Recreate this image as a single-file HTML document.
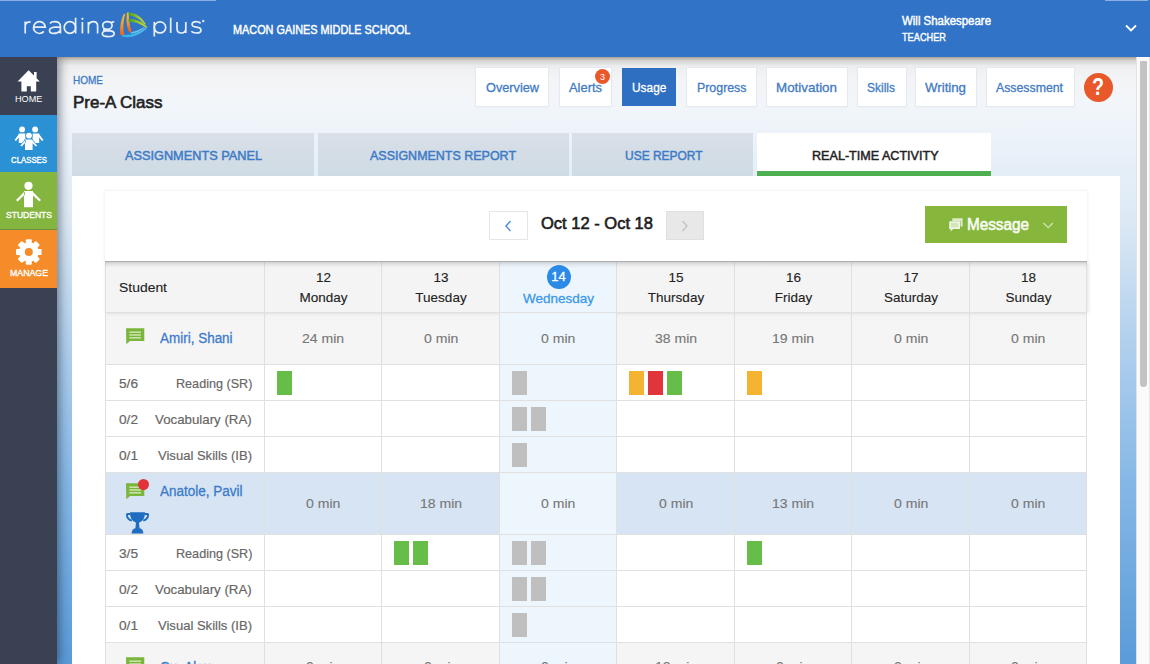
<!DOCTYPE html>
<html><head><meta charset="utf-8">
<style>
*{box-sizing:border-box;margin:0;padding:0}
html,body{width:1150px;height:664px;overflow:hidden;font-family:"Liberation Sans",sans-serif}
body{position:relative;background:linear-gradient(180deg,#e9e9ea 57px,#f3f4f6 78px,#f2f6fa 105px,#ebf2f9 140px,#dce9f5 220px,#b5d2ee 330px,#86b8e6 480px,#5a9bd9 664px)}
.a{position:absolute}
.t{position:absolute;white-space:nowrap;line-height:1;transform-origin:0 0;z-index:20}
.nb{position:absolute;top:68px;height:38px;background:#fff;box-shadow:0 0 0 1px #e4e9ef, 0 1px 2px rgba(0,0,0,.06)}
.tab{position:absolute;top:133px;height:43px;background:linear-gradient(180deg,#d9e0e8 0,#d6dee7 10px,#cfdbe4 43px)}
.bar{position:absolute;width:15px;height:24px}
.g{background:#66bd47}.y{background:#f4b432}.r{background:#e0353a}.gr{background:#bfbfbf}
.hl{position:absolute;height:1px;background:#e0e0e0}
.vl{position:absolute;width:1px;background:#e0e0e0}
</style></head><body>
<div class="a" style="left:0;top:0;width:1150px;height:57px;background:#3173c6;z-index:10;box-shadow:none"></div>
<div class="a" style="left:0;top:57px;width:1150px;height:9px;background:linear-gradient(180deg,rgba(120,105,85,.55),rgba(150,140,125,.25) 40%,rgba(200,200,200,0));z-index:8"></div>
<div class="a" style="left:0;top:0;width:216px;height:1px;background:#8db0e2;z-index:11"></div>
<div class="a" style="left:1105px;top:0;width:43px;height:1px;background:#8db0e2;z-index:11"></div>
<svg class="a" style="left:0;top:0;z-index:11" width="220" height="50" viewBox="0 0 220 50">
<g fill="none" stroke="#e9eff8" stroke-width="1.7">
 <path d="M25.2 33.4 V21.5 M25.2 24.8 Q26.6 21.7 30.6 21.9"/>
 <path d="M33.6 27.1 H45.3 A5.9 5.95 0 1 0 43.9 31.4"/>
 <path d="M49.9 23.3 Q51.5 21.6 54.8 21.6 Q60.4 21.6 60.4 26.5 V33.4 M60.4 27.4 Q58 26.9 55 27.2 Q49.5 27.8 49.5 30.5 Q49.5 33.4 53.6 33.4 Q58 33.4 60.4 30.6"/>
 <ellipse cx="69.9" cy="27.5" rx="5.7" ry="5.9"/><path d="M75.6 17.7 V33.4"/>
 <path d="M82.4 22 V33.4"/>
 <path d="M88.4 21.9 V33.4 M88.4 25 Q89.8 21.6 93.2 21.6 Q97.6 21.6 97.6 26 V33.4"/>
 <ellipse cx="107.4" cy="25.5" rx="4.7" ry="3.9"/><path d="M111 22.6 Q112.2 21.8 114.2 22"/>
 <path d="M104.6 28.6 Q102.6 30.3 105 30.9 H110 Q114.2 31.2 114.2 33.8 Q113.8 36.6 108.2 36.6 Q102.3 36.6 102.3 33.8 Q102.3 31.9 104.8 31"/>
 <path d="M154.3 21.9 V36.5"/><ellipse cx="160" cy="27.4" rx="5.7" ry="5.5"/>
 <path d="M170.7 17.7 V32.9"/>
 <path d="M177 21.9 V28.5 Q177 33 181.4 33 Q185.8 33 185.8 28.5 M185.8 21.9 V32.9"/>
 <path d="M200.6 23.4 Q199.1 21.7 196.2 21.7 Q192.1 21.7 192.1 24.5 Q192.1 26.6 196.4 27.2 Q201 27.8 201 30.2 Q201 33 196.3 33 Q192.8 33 191.3 31.2"/>
</g>
<circle cx="82.4" cy="18.8" r="1.15" fill="#e9eff8"/>
<circle cx="203.2" cy="21.1" r="1.3" fill="#c9dcf3"/>
<defs>
<linearGradient id="og" x1="0" y1="0" x2="0" y2="1"><stop offset="0" stop-color="#f2c23a"/><stop offset=".45" stop-color="#f7a023"/><stop offset="1" stop-color="#ee5a1c"/></linearGradient>
<linearGradient id="gg" x1="0" y1="0" x2="1" y2="0"><stop offset="0" stop-color="#3f9f2f"/><stop offset=".6" stop-color="#a6cc2e"/><stop offset="1" stop-color="#c8d838"/></linearGradient>
<linearGradient id="bg" x1="0" y1="0" x2="1" y2="0"><stop offset="0" stop-color="#2bb0e6"/><stop offset="1" stop-color="#58c0ee"/></linearGradient>
</defs>
<path d="M124 13.8 C121 19.5 119.5 27.5 120.3 35.3 L124.3 35.8 C123 29 123 21 125.2 14 Z" fill="url(#og)"/>
<path d="M127 12.4 C126 18.8 126.4 26.5 129.2 32.4 L131.6 31.6 C129.5 25.5 128.8 19 128.9 12.6 Z" fill="url(#og)"/>
<path d="M128.6 12.4 C135.5 12.6 141.5 16.8 146 24.2 L144.8 24.6 C140 18.8 134.5 15.6 128.6 15.4 Z" fill="url(#gg)"/>
<path d="M128.6 18.8 C135.5 18.6 142 21.6 147.6 27.2 L146 27.8 C140.5 23.6 134.5 21.6 128.6 21.8 Z" fill="url(#gg)"/>
<path d="M121.5 36.4 C130 39 139.5 35.2 147 28.2 L145.4 28 C138 33.2 130 35.6 123.3 34.6 Z" fill="url(#bg)"/>
<path d="M130.5 33.6 C136 33.2 141 30.8 145 27.2 L143.6 27.2 C139.5 29.8 135 31.6 130.8 32.2 Z" fill="#6cc8ea"/>
</svg>
<svg class="a" style="left:1123px;top:22px;z-index:11" width="16" height="12"><path d="M3 3.5 L8 8.5 L13 3.5" fill="none" stroke="#fff" stroke-width="1.8"/></svg>
<div class="a" style="left:0;top:57px;width:57px;height:607px;background:#3a4153;z-index:9;box-shadow:2px 0 10px rgba(20,30,45,.55)"></div>
<div class="a" style="left:0;top:115px;width:57px;height:57px;background:#2a91d5;z-index:9"></div>
<div class="a" style="left:0;top:172px;width:57px;height:58px;background:#84b53e;z-index:9"></div>
<div class="a" style="left:0;top:230px;width:57px;height:58px;background:#f68b29;z-index:9"></div>
<div class="a" style="left:0;top:229px;width:57px;height:1px;background:#6f8f3f;z-index:9"></div>
<svg class="a" style="left:0;top:57px;z-index:12" width="57" height="240" viewBox="0 57 57 240" fill="#fff">
<path d="M28.6 70.3 L17.6 81.4 H21.4 V91.6 H26.8 V86.2 H30.8 V91.6 H36.2 V81.4 H39.8 L36.6 78.2 V72.1 H34 V75.6 Z"/>
<circle cx="22.1" cy="129.4" r="2.9"/><circle cx="35.1" cy="129.4" r="2.9"/>
<path d="M18.8 133.5 H25.4 L25.4 143 H18.8 Z M32.6 133.5 H39.2 V143 H32.6 Z"/>
<path d="M19 134 L14.5 140 L16 141 L20 136 Z M39 134 L43.5 140 L42 141 L38 136 Z" />
<g stroke="#2a91d5" stroke-width="1.1" paint-order="stroke"><circle cx="29" cy="135.6" r="2.9"/><path d="M25 139.6 H32.6 V150 H25 Z M25.5 140 L20.3 145.5 L21.6 146.6 L26 142 Z M32 140 L37.2 145.5 L35.9 146.6 L31.5 142 Z"/></g>
<circle cx="28.5" cy="185.8" r="4.1"/>
<path d="M24 191 H33 V207.2 H24 Z M24.5 191.5 L16 200 L17.6 201.6 L25 194.5 Z M32.5 191.5 L41 200 L39.4 201.6 L32 194.5 Z"/>
<g transform="translate(28.8 252)">
<path d="M-2.2 -13 H2.2 L2.8 -9.2 A9.5 9.5 0 0 1 5.8 -7.5 L9.2 -9.6 L12.3 -6.5 L10 -3.3 A9.5 9.5 0 0 1 10.8 0 L13 0.4 V-0.4 Z" fill="none"/>
</g>
</svg>
<svg class="a" style="left:0;top:222px;z-index:12" width="57" height="60" viewBox="0 222 57 60"><g transform="translate(28.8 252)" fill="#fff"><rect x="-3" y="-12.8" width="6" height="6" rx="1" transform="rotate(0)"/><rect x="-3" y="-12.8" width="6" height="6" rx="1" transform="rotate(45)"/><rect x="-3" y="-12.8" width="6" height="6" rx="1" transform="rotate(90)"/><rect x="-3" y="-12.8" width="6" height="6" rx="1" transform="rotate(135)"/><rect x="-3" y="-12.8" width="6" height="6" rx="1" transform="rotate(180)"/><rect x="-3" y="-12.8" width="6" height="6" rx="1" transform="rotate(225)"/><rect x="-3" y="-12.8" width="6" height="6" rx="1" transform="rotate(270)"/><rect x="-3" y="-12.8" width="6" height="6" rx="1" transform="rotate(315)"/><circle r="9.8"/><circle r="4" fill="#f68b29"/></g></svg>
<div class="nb" style="left:475.6px;width:72.10000000000002px"></div>
<div class="nb" style="left:559.8px;width:51.60000000000002px"></div>
<div class="a" style="left:621.8px;top:68px;width:54.200000000000045px;height:38px;background:#2f6fc1"></div>
<div class="nb" style="left:687px;width:68.79999999999995px"></div>
<div class="nb" style="left:767px;width:80px"></div>
<div class="nb" style="left:857.7px;width:47.89999999999998px"></div>
<div class="nb" style="left:916px;width:60px"></div>
<div class="nb" style="left:987px;width:86.70000000000005px"></div>
<div class="a" style="left:595px;top:69px;width:15px;height:15px;border-radius:50%;background:#e8582b;z-index:15"></div>
<div class="a" style="left:1084px;top:72.5px;width:29px;height:29px;border-radius:50%;background:#e8582b"></div>
<div class="tab" style="left:72px;width:242px"></div>
<div class="tab" style="left:318px;width:250.5px"></div>
<div class="tab" style="left:572px;width:181px"></div>
<div class="a" style="left:757px;top:133px;width:233.5px;height:43px;background:#fff"></div>
<div class="a" style="left:757px;top:171px;width:233.5px;height:5px;background:#4daf4f"></div>
<div class="a" style="left:72px;top:176px;width:1048px;height:488px;background:#fff"></div>
<div class="a" style="left:105px;top:191px;width:982px;height:70px;background:#fff;box-shadow:0 0 0 1px #f6f6f6, 0 0 4px rgba(0,0,0,.08);z-index:6"></div>
<div class="a" style="left:105px;top:261px;width:982px;height:7px;background:linear-gradient(180deg,rgba(0,0,0,.27),rgba(0,0,0,.12) 1.5px,rgba(0,0,0,.05) 4px,rgba(0,0,0,0));z-index:7"></div>
<div class="a" style="left:489px;top:210.5px;width:38.5px;height:29px;background:#fff;border:1px solid #e6e6e6;z-index:7"></div>
<svg class="a" style="left:500px;top:218px;z-index:8" width="16" height="16"><path d="M10.5 3 L6 8 L10.5 13" fill="none" stroke="#4a8ad4" stroke-width="1.4"/></svg>
<div class="a" style="left:665.5px;top:210.5px;width:38.5px;height:29px;background:#e8e8e8;border:1px solid #e0e0e0;z-index:7"></div>
<svg class="a" style="left:677px;top:218px;z-index:8" width="16" height="16"><path d="M5.5 3 L10 8 L5.5 13" fill="none" stroke="#c4c4c4" stroke-width="1.4"/></svg>
<div class="a" style="left:924.5px;top:206.3px;width:142px;height:37px;background:#86b73c;z-index:7"></div>
<svg class="a" style="left:946px;top:215px;z-index:8" width="20" height="20" viewBox="946 215 20 20">
<path d="M952.3 218.2 H962.6 V226.6 H960.5 V221 H952.3 Z" fill="#dfeccb"/>
<path d="M949.2 221.2 H960 V229 H953.2 L950.6 231.4 V229 H949.2 Z" fill="#eef5e4"/>
<path d="M951 223 H958.2 V227.3 H951 Z" fill="#d3e6b8"/>
</svg>
<svg class="a" style="left:1040px;top:219px;z-index:8" width="16" height="12"><path d="M3.5 4 L8.2 8.6 L12.9 4" fill="none" stroke="#cfe2b3" stroke-width="1.3"/></svg>
<div class="a" style="left:105px;top:261px;width:982px;height:51px;background:#f4f4f4;z-index:5;box-shadow:1px 1px 4px rgba(0,0,0,.13)"></div>
<div class="a" style="left:105px;top:312px;width:982px;height:52px;background:#f5f5f5;z-index:3"></div>
<div class="a" style="left:105px;top:472px;width:982px;height:62px;background:#d7e4f4;z-index:3"></div>
<div class="a" style="left:105px;top:642px;width:982px;height:30px;background:#f5f5f5;z-index:3"></div>
<div class="a" style="left:500px;top:261px;width:116px;height:403px;background:#eef6fd;z-index:5"></div>
<div class="hl" style="left:105px;top:261px;width:982px;z-index:6"></div>
<div class="hl" style="left:105px;top:312px;width:982px;z-index:6"></div>
<div class="hl" style="left:105px;top:364px;width:982px;z-index:6"></div>
<div class="hl" style="left:105px;top:400px;width:982px;z-index:6"></div>
<div class="hl" style="left:105px;top:436px;width:982px;z-index:6"></div>
<div class="hl" style="left:105px;top:472px;width:982px;z-index:6"></div>
<div class="hl" style="left:105px;top:534px;width:982px;z-index:6"></div>
<div class="hl" style="left:105px;top:570px;width:982px;z-index:6"></div>
<div class="hl" style="left:105px;top:606px;width:982px;z-index:6"></div>
<div class="hl" style="left:105px;top:642px;width:982px;z-index:6"></div>
<div class="vl" style="left:105px;top:261px;height:403px;z-index:6"></div>
<div class="vl" style="left:264px;top:261px;height:403px;z-index:6"></div>
<div class="vl" style="left:381px;top:261px;height:403px;z-index:6"></div>
<div class="vl" style="left:499px;top:261px;height:403px;z-index:6"></div>
<div class="vl" style="left:616px;top:261px;height:403px;z-index:6"></div>
<div class="vl" style="left:734px;top:261px;height:403px;z-index:6"></div>
<div class="vl" style="left:851px;top:261px;height:403px;z-index:6"></div>
<div class="vl" style="left:969px;top:261px;height:403px;z-index:6"></div>
<div class="vl" style="left:1086px;top:261px;height:403px;z-index:6"></div>
<div class="a" style="left:546.5px;top:264.5px;width:24px;height:24px;border-radius:50%;background:#2b8ae6;z-index:8"></div>
<svg class="a" style="left:126px;top:327.8px;z-index:8" width="20" height="18" viewBox="0 0 20 18">
<path d="M0 0.3 H18.3 V13 H4 L0.3 16.3 Z" fill="#7ab53c"/>
<rect x="3.3" y="3.4" width="11.7" height="1.6" fill="#c9e2a9"/><rect x="3.3" y="6.2" width="11.7" height="1.6" fill="#c9e2a9"/><rect x="3.3" y="9" width="11.7" height="1.6" fill="#c9e2a9"/>
</svg>
<svg class="a" style="left:126px;top:482.5px;z-index:8" width="20" height="18" viewBox="0 0 20 18">
<path d="M0 0.3 H18.3 V13 H4 L0.3 16.3 Z" fill="#7ab53c"/>
<rect x="3.3" y="3.4" width="11.7" height="1.6" fill="#c9e2a9"/><rect x="3.3" y="6.2" width="11.7" height="1.6" fill="#c9e2a9"/><rect x="3.3" y="9" width="11.7" height="1.6" fill="#c9e2a9"/>
</svg>
<svg class="a" style="left:126px;top:657px;z-index:8" width="20" height="18" viewBox="0 0 20 18">
<path d="M0 0.3 H18.3 V13 H4 L0.3 16.3 Z" fill="#7ab53c"/>
<rect x="3.3" y="3.4" width="11.7" height="1.6" fill="#c9e2a9"/><rect x="3.3" y="6.2" width="11.7" height="1.6" fill="#c9e2a9"/><rect x="3.3" y="9" width="11.7" height="1.6" fill="#c9e2a9"/>
</svg>
<div class="a" style="left:138px;top:478.5px;width:11px;height:11px;border-radius:50%;background:#e2323a;z-index:9"></div>
<svg class="a" style="left:125px;top:511px;z-index:8" width="26" height="24" viewBox="0 0 26 24">
<path d="M5 1.3 H20 Q20.2 9.5 14 11.8 L14.6 17.2 Q18 17.6 18.4 22.4 H6.6 Q7 17.6 10.4 17.2 L11 11.8 Q4.8 9.5 5 1.3 Z" fill="#1e6dc1"/>
<path d="M5.6 3 H2.6 Q1.8 3 1.9 4.2 Q2.3 8.5 6.8 9.6" fill="none" stroke="#1e6dc1" stroke-width="1.9"/>
<path d="M19.4 3 H22.4 Q23.2 3 23.1 4.2 Q22.7 8.5 18.2 9.6" fill="none" stroke="#1e6dc1" stroke-width="1.9"/>
</svg>
<div class="bar g" style="left:277px;top:371px;z-index:8"></div>
<div class="bar gr" style="left:512px;top:371px;z-index:8"></div>
<div class="bar y" style="left:629px;top:371px;z-index:8"></div>
<div class="bar r" style="left:648px;top:371px;z-index:8"></div>
<div class="bar g" style="left:667px;top:371px;z-index:8"></div>
<div class="bar y" style="left:747px;top:371px;z-index:8"></div>
<div class="bar gr" style="left:512px;top:407px;z-index:8"></div>
<div class="bar gr" style="left:531px;top:407px;z-index:8"></div>
<div class="bar gr" style="left:512px;top:443px;z-index:8"></div>
<div class="bar g" style="left:394px;top:541px;z-index:8"></div>
<div class="bar g" style="left:413px;top:541px;z-index:8"></div>
<div class="bar gr" style="left:512px;top:541px;z-index:8"></div>
<div class="bar gr" style="left:531px;top:541px;z-index:8"></div>
<div class="bar g" style="left:747px;top:541px;z-index:8"></div>
<div class="bar gr" style="left:512px;top:577px;z-index:8"></div>
<div class="bar gr" style="left:531px;top:577px;z-index:8"></div>
<div class="bar gr" style="left:512px;top:613px;z-index:8"></div>
<div class="a" style="left:1136px;top:57px;width:14px;height:607px;background:#fafafa;border-left:1px solid #e2e2e2;z-index:9"></div>
<div class="a" style="left:1149px;top:57px;width:1px;height:607px;background:#e6e6e6;z-index:9"></div>
<div class="a" style="left:1140px;top:60.5px;width:7px;height:326px;border-radius:1px 1px 4px 4px;background:#c3c3c3;z-index:10"></div>
<span class="t" style="left:14.90px;top:95.29px;font-size:8.5px;color:#ffffff;font-weight:normal;transform:scaleX(1.0745);">HOME</span>
<span class="t" style="left:11.30px;top:154.56px;font-size:9.6px;color:#ffffff;font-weight:normal;transform:scaleX(0.8133);-webkit-text-stroke:0.36px #ffffff;">CLASSES</span>
<span class="t" style="left:5.80px;top:210.26px;font-size:9.6px;color:#ffffff;font-weight:normal;transform:scaleX(0.8897);-webkit-text-stroke:0.36px #ffffff;">STUDENTS</span>
<span class="t" style="left:9.80px;top:268.16px;font-size:9.6px;color:#ffffff;font-weight:normal;transform:scaleX(0.9136);-webkit-text-stroke:0.36px #ffffff;">MANAGE</span>
<span class="t" style="left:233.00px;top:23.62px;font-size:12px;color:#ffffff;font-weight:normal;transform:scaleX(0.9050);-webkit-text-stroke:0.44px #ffffff;">MACON GAINES MIDDLE SCHOOL</span>
<span class="t" style="left:902.40px;top:14.70px;font-size:12.5px;color:#ffffff;font-weight:normal;transform:scaleX(0.9150);-webkit-text-stroke:0.46px #ffffff;">Will Shakespeare</span>
<span class="t" style="left:902.40px;top:32.02px;font-size:11.3px;color:#ffffff;font-weight:normal;transform:scaleX(0.8151);-webkit-text-stroke:0.42px #ffffff;">TEACHER</span>
<span class="t" style="left:72.80px;top:75.37px;font-size:11px;color:#3b7bc6;font-weight:normal;transform:scaleX(0.9091);-webkit-text-stroke:0.3px #3b7bc6;">HOME</span>
<span class="t" style="left:73.40px;top:93.61px;font-size:16.5px;color:#222;font-weight:normal;transform:scaleX(1.0274);-webkit-text-stroke:0.61px #222;">Pre-A Class</span>
<span class="t" style="left:486.20px;top:80.98px;font-size:13px;color:#3f7bc4;font-weight:normal;transform:scaleX(0.9781);-webkit-text-stroke:0.3px #3f7bc4;">Overview</span>
<span class="t" style="left:568.60px;top:80.98px;font-size:13px;color:#3f7bc4;font-weight:normal;transform:scaleX(0.9929);-webkit-text-stroke:0.3px #3f7bc4;">Alerts</span>
<span class="t" style="left:631.80px;top:80.98px;font-size:13px;color:#ffffff;font-weight:normal;transform:scaleX(0.9154);-webkit-text-stroke:0.3px #ffffff;">Usage</span>
<span class="t" style="left:696.50px;top:80.98px;font-size:13px;color:#3f7bc4;font-weight:normal;transform:scaleX(0.9514);-webkit-text-stroke:0.3px #3f7bc4;">Progress</span>
<span class="t" style="left:776.30px;top:80.98px;font-size:13px;color:#3f7bc4;font-weight:normal;transform:scaleX(1.0295);-webkit-text-stroke:0.3px #3f7bc4;">Motivation</span>
<span class="t" style="left:867.00px;top:80.98px;font-size:13px;color:#3f7bc4;font-weight:normal;transform:scaleX(0.9228);-webkit-text-stroke:0.3px #3f7bc4;">Skills</span>
<span class="t" style="left:925.30px;top:80.98px;font-size:13px;color:#3f7bc4;font-weight:normal;transform:scaleX(1.0194);-webkit-text-stroke:0.3px #3f7bc4;">Writing</span>
<span class="t" style="left:996.40px;top:80.98px;font-size:13px;color:#3f7bc4;font-weight:normal;transform:scaleX(0.9462);-webkit-text-stroke:0.3px #3f7bc4;">Assessment</span>
<span class="t" style="left:599.99px;top:72.67px;font-size:9px;color:#ffffff;font-weight:normal;">3</span>
<span class="t" style="left:1092.20px;top:75.87px;font-size:23.5px;color:#ffffff;font-weight:bold;transform:scaleX(0.8357);">?</span>
<span class="t" style="left:125.00px;top:148.52px;font-size:13.3px;color:#3d7bc6;font-weight:normal;transform:scaleX(0.9573);-webkit-text-stroke:0.49px #3d7bc6;">ASSIGNMENTS PANEL</span>
<span class="t" style="left:370.00px;top:148.52px;font-size:13.3px;color:#3d7bc6;font-weight:normal;transform:scaleX(0.9380);-webkit-text-stroke:0.49px #3d7bc6;">ASSIGNMENTS REPORT</span>
<span class="t" style="left:625.20px;top:148.52px;font-size:13.3px;color:#3d7bc6;font-weight:normal;transform:scaleX(0.9002);-webkit-text-stroke:0.49px #3d7bc6;">USE REPORT</span>
<span class="t" style="left:811.50px;top:148.52px;font-size:13.3px;color:#222;font-weight:normal;transform:scaleX(0.9467);-webkit-text-stroke:0.49px #222;">REAL-TIME ACTIVITY</span>
<span class="t" style="left:540.50px;top:215.18px;font-size:16.3px;color:#1e1e1e;font-weight:normal;transform:scaleX(1.0144);-webkit-text-stroke:0.60px #1e1e1e;">Oct 12 - Oct 18</span>
<span class="t" style="left:967.20px;top:216.73px;font-size:16px;color:#f8fbf4;font-weight:normal;transform:scaleX(0.9550);-webkit-text-stroke:0.59px #f8fbf4;">Message</span>
<span class="t" style="left:118.80px;top:281.05px;font-size:13.5px;color:#222;font-weight:normal;transform:scaleX(1.0312);-webkit-text-stroke:0.12px #222;">Student</span>
<span class="t" style="left:315.98px;top:271.35px;font-size:13.5px;color:#222;font-weight:normal;-webkit-text-stroke:0.12px #222;">12</span>
<span class="t" style="left:299.48px;top:291.15px;font-size:13.5px;color:#222;font-weight:normal;-webkit-text-stroke:0.12px #222;">Monday</span>
<span class="t" style="left:433.48px;top:271.35px;font-size:13.5px;color:#222;font-weight:normal;-webkit-text-stroke:0.12px #222;">13</span>
<span class="t" style="left:415.36px;top:291.15px;font-size:13.5px;color:#222;font-weight:normal;-webkit-text-stroke:0.12px #222;">Tuesday</span>
<span class="t" style="left:551.27px;top:270.48px;font-size:13px;color:#ffffff;font-weight:normal;-webkit-text-stroke:0.3px #ffffff;z-index:21;">14</span>
<span class="t" style="left:522.98px;top:292.25px;font-size:13.5px;color:#3a99ea;font-weight:normal;-webkit-text-stroke:0.3px #3a99ea;">Wednesday</span>
<span class="t" style="left:668.48px;top:271.35px;font-size:13.5px;color:#222;font-weight:normal;-webkit-text-stroke:0.12px #222;">15</span>
<span class="t" style="left:647.86px;top:291.15px;font-size:13.5px;color:#222;font-weight:normal;-webkit-text-stroke:0.12px #222;">Thursday</span>
<span class="t" style="left:785.98px;top:271.35px;font-size:13.5px;color:#222;font-weight:normal;-webkit-text-stroke:0.12px #222;">16</span>
<span class="t" style="left:774.74px;top:291.15px;font-size:13.5px;color:#222;font-weight:normal;-webkit-text-stroke:0.12px #222;">Friday</span>
<span class="t" style="left:903.48px;top:271.35px;font-size:13.5px;color:#222;font-weight:normal;-webkit-text-stroke:0.12px #222;">17</span>
<span class="t" style="left:883.98px;top:291.15px;font-size:13.5px;color:#222;font-weight:normal;-webkit-text-stroke:0.12px #222;">Saturday</span>
<span class="t" style="left:1020.98px;top:271.35px;font-size:13.5px;color:#222;font-weight:normal;-webkit-text-stroke:0.12px #222;">18</span>
<span class="t" style="left:1005.60px;top:291.15px;font-size:13.5px;color:#222;font-weight:normal;-webkit-text-stroke:0.12px #222;">Sunday</span>
<span class="t" style="left:302.42px;top:332.35px;font-size:13.5px;color:#777777;font-weight:normal;transform:scaleX(1.0400);-webkit-text-stroke:0.3px #777777;-webkit-text-stroke:0.12px #777;">24 min</span>
<span class="t" style="left:423.83px;top:332.35px;font-size:13.5px;color:#777777;font-weight:normal;transform:scaleX(1.0400);-webkit-text-stroke:0.3px #777777;-webkit-text-stroke:0.12px #777;">0 min</span>
<span class="t" style="left:541.33px;top:332.35px;font-size:13.5px;color:#777777;font-weight:normal;transform:scaleX(1.0400);-webkit-text-stroke:0.3px #777777;-webkit-text-stroke:0.12px #777;">0 min</span>
<span class="t" style="left:654.92px;top:332.35px;font-size:13.5px;color:#777777;font-weight:normal;transform:scaleX(1.0400);-webkit-text-stroke:0.3px #777777;-webkit-text-stroke:0.12px #777;">38 min</span>
<span class="t" style="left:772.42px;top:332.35px;font-size:13.5px;color:#777777;font-weight:normal;transform:scaleX(1.0400);-webkit-text-stroke:0.3px #777777;-webkit-text-stroke:0.12px #777;">19 min</span>
<span class="t" style="left:893.83px;top:332.35px;font-size:13.5px;color:#777777;font-weight:normal;transform:scaleX(1.0400);-webkit-text-stroke:0.3px #777777;-webkit-text-stroke:0.12px #777;">0 min</span>
<span class="t" style="left:1011.33px;top:332.35px;font-size:13.5px;color:#777777;font-weight:normal;transform:scaleX(1.0400);-webkit-text-stroke:0.3px #777777;-webkit-text-stroke:0.12px #777;">0 min</span>
<span class="t" style="left:306.33px;top:497.05px;font-size:13.5px;color:#777777;font-weight:normal;transform:scaleX(1.0400);-webkit-text-stroke:0.3px #777777;-webkit-text-stroke:0.12px #777;">0 min</span>
<span class="t" style="left:419.92px;top:497.05px;font-size:13.5px;color:#777777;font-weight:normal;transform:scaleX(1.0400);-webkit-text-stroke:0.3px #777777;-webkit-text-stroke:0.12px #777;">18 min</span>
<span class="t" style="left:541.33px;top:497.05px;font-size:13.5px;color:#777777;font-weight:normal;transform:scaleX(1.0400);-webkit-text-stroke:0.3px #777777;-webkit-text-stroke:0.12px #777;">0 min</span>
<span class="t" style="left:658.83px;top:497.05px;font-size:13.5px;color:#777777;font-weight:normal;transform:scaleX(1.0400);-webkit-text-stroke:0.3px #777777;-webkit-text-stroke:0.12px #777;">0 min</span>
<span class="t" style="left:772.42px;top:497.05px;font-size:13.5px;color:#777777;font-weight:normal;transform:scaleX(1.0400);-webkit-text-stroke:0.3px #777777;-webkit-text-stroke:0.12px #777;">13 min</span>
<span class="t" style="left:893.83px;top:497.05px;font-size:13.5px;color:#777777;font-weight:normal;transform:scaleX(1.0400);-webkit-text-stroke:0.3px #777777;-webkit-text-stroke:0.12px #777;">0 min</span>
<span class="t" style="left:1011.33px;top:497.05px;font-size:13.5px;color:#777777;font-weight:normal;transform:scaleX(1.0400);-webkit-text-stroke:0.3px #777777;-webkit-text-stroke:0.12px #777;">0 min</span>
<span class="t" style="left:306.33px;top:659.75px;font-size:13.5px;color:#777777;font-weight:normal;transform:scaleX(1.0400);-webkit-text-stroke:0.3px #777777;-webkit-text-stroke:0.12px #777;">0 min</span>
<span class="t" style="left:423.83px;top:659.75px;font-size:13.5px;color:#777777;font-weight:normal;transform:scaleX(1.0400);-webkit-text-stroke:0.3px #777777;-webkit-text-stroke:0.12px #777;">0 min</span>
<span class="t" style="left:541.33px;top:659.75px;font-size:13.5px;color:#777777;font-weight:normal;transform:scaleX(1.0400);-webkit-text-stroke:0.3px #777777;-webkit-text-stroke:0.12px #777;">0 min</span>
<span class="t" style="left:654.92px;top:659.75px;font-size:13.5px;color:#777777;font-weight:normal;transform:scaleX(1.0400);-webkit-text-stroke:0.3px #777777;-webkit-text-stroke:0.12px #777;">12 min</span>
<span class="t" style="left:776.33px;top:659.75px;font-size:13.5px;color:#777777;font-weight:normal;transform:scaleX(1.0400);-webkit-text-stroke:0.3px #777777;-webkit-text-stroke:0.12px #777;">0 min</span>
<span class="t" style="left:893.83px;top:659.75px;font-size:13.5px;color:#777777;font-weight:normal;transform:scaleX(1.0400);-webkit-text-stroke:0.3px #777777;-webkit-text-stroke:0.12px #777;">0 min</span>
<span class="t" style="left:1011.33px;top:659.75px;font-size:13.5px;color:#777777;font-weight:normal;transform:scaleX(1.0400);-webkit-text-stroke:0.3px #777777;-webkit-text-stroke:0.12px #777;">0 min</span>
<span class="t" style="left:119.30px;top:377.38px;font-size:13px;color:#666;font-weight:normal;transform:scaleX(1.0510);-webkit-text-stroke:0.3px #666;-webkit-text-stroke:0.18px #666;">5/6</span>
<span class="t" style="left:119.30px;top:413.18px;font-size:13px;color:#666;font-weight:normal;transform:scaleX(1.0510);-webkit-text-stroke:0.3px #666;-webkit-text-stroke:0.18px #666;">0/2</span>
<span class="t" style="left:119.30px;top:449.18px;font-size:13px;color:#666;font-weight:normal;transform:scaleX(1.0510);-webkit-text-stroke:0.3px #666;-webkit-text-stroke:0.18px #666;">0/1</span>
<span class="t" style="left:175.50px;top:377.38px;font-size:13px;color:#666;font-weight:normal;transform:scaleX(0.9700);-webkit-text-stroke:0.3px #666;-webkit-text-stroke:0.18px #666;">Reading (SR)</span>
<span class="t" style="left:155.20px;top:413.18px;font-size:13px;color:#666;font-weight:normal;transform:scaleX(1.0216);-webkit-text-stroke:0.3px #666;-webkit-text-stroke:0.18px #666;">Vocabulary (RA)</span>
<span class="t" style="left:157.90px;top:449.18px;font-size:13px;color:#666;font-weight:normal;transform:scaleX(1.0033);-webkit-text-stroke:0.3px #666;-webkit-text-stroke:0.18px #666;">Visual Skills (IB)</span>
<span class="t" style="left:119.30px;top:547.18px;font-size:13px;color:#666;font-weight:normal;transform:scaleX(1.0510);-webkit-text-stroke:0.3px #666;-webkit-text-stroke:0.18px #666;">3/5</span>
<span class="t" style="left:119.30px;top:583.18px;font-size:13px;color:#666;font-weight:normal;transform:scaleX(1.0510);-webkit-text-stroke:0.3px #666;-webkit-text-stroke:0.18px #666;">0/2</span>
<span class="t" style="left:119.30px;top:619.18px;font-size:13px;color:#666;font-weight:normal;transform:scaleX(1.0510);-webkit-text-stroke:0.3px #666;-webkit-text-stroke:0.18px #666;">0/1</span>
<span class="t" style="left:175.50px;top:547.18px;font-size:13px;color:#666;font-weight:normal;transform:scaleX(0.9700);-webkit-text-stroke:0.3px #666;-webkit-text-stroke:0.18px #666;">Reading (SR)</span>
<span class="t" style="left:155.20px;top:583.18px;font-size:13px;color:#666;font-weight:normal;transform:scaleX(1.0216);-webkit-text-stroke:0.3px #666;-webkit-text-stroke:0.18px #666;">Vocabulary (RA)</span>
<span class="t" style="left:157.90px;top:619.18px;font-size:13px;color:#666;font-weight:normal;transform:scaleX(1.0033);-webkit-text-stroke:0.3px #666;-webkit-text-stroke:0.18px #666;">Visual Skills (IB)</span>
<span class="t" style="left:160.40px;top:331.23px;font-size:14px;color:#3b7bc9;font-weight:normal;transform:scaleX(0.9620);-webkit-text-stroke:0.3px #3b7bc9;">Amiri, Shani</span>
<span class="t" style="left:160.40px;top:484.33px;font-size:14px;color:#3b7bc9;font-weight:normal;transform:scaleX(0.9648);-webkit-text-stroke:0.3px #3b7bc9;">Anatole, Pavil</span>
<span class="t" style="left:160.40px;top:659.63px;font-size:14px;color:#3b7bc9;font-weight:normal;transform:scaleX(0.9700);-webkit-text-stroke:0.3px #3b7bc9;">Cu, Alex</span>
</body></html>
